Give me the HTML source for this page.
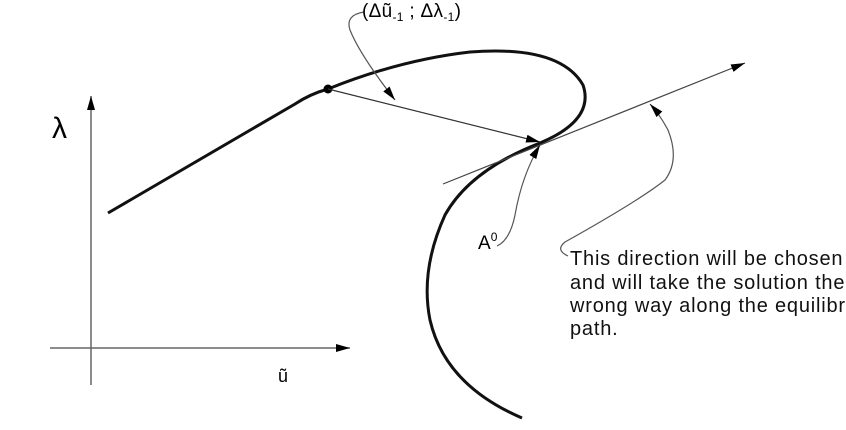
<!DOCTYPE html>
<html><head><style>
body{margin:0;background:#fff;}
svg{display:block;font-family:"Liberation Sans",sans-serif;}
</style></head><body>
<svg width="846" height="430" viewBox="0 0 846 430">
<defs>
<marker id="a" markerWidth="14" markerHeight="8" refX="14" refY="4" orient="auto" markerUnits="userSpaceOnUse">
<path d="M0,0 L14,4 L0,8 Z" fill="#000"/></marker>
</defs>
<line x1="91" y1="385" x2="91" y2="96" stroke="#666" stroke-width="1.5" marker-end="url(#a)"/>
<line x1="50" y1="348" x2="350" y2="348" stroke="#666" stroke-width="1.5" marker-end="url(#a)"/>
<text x="52" y="138" font-size="30">λ</text>
<text x="278" y="382" font-size="18">ũ</text>
<path d="M108,213 L295,104 Q310,94 328,89 Q400,60 470,52 Q560,45 583,85 Q595,120 540,143 Q470,170 445,215 Q420,270 430,320 Q445,385 522,418" fill="none" stroke="#111" stroke-width="3"/>
<circle cx="328" cy="89" r="4.5" fill="#000"/>
<line x1="443" y1="184" x2="745" y2="63" stroke="#444" stroke-width="1.2" marker-end="url(#a)"/>
<line x1="328" y1="89" x2="540" y2="142" stroke="#333" stroke-width="1.2" marker-end="url(#a)"/>
<path d="M364,12 Q345,15 350,30 Q360,55 395,100" fill="none" stroke="#555" stroke-width="1.2" marker-end="url(#a)"/>
<path d="M497,246 Q510,240 515,215 Q522,175 540,145" fill="none" stroke="#555" stroke-width="1.2" marker-end="url(#a)"/>
<path d="M568,256 Q555,250 565,242 Q640,200 665,180 Q680,160 668,130 Q660,115 650,104" fill="none" stroke="#555" stroke-width="1.2" marker-end="url(#a)"/>
<text x="362" y="17" font-size="19" letter-spacing="0.3">(Δũ<tspan font-size="12" dy="4">-1</tspan><tspan dy="-4"> ; Δλ</tspan><tspan font-size="12" dy="4">-1</tspan><tspan dy="-4">)</tspan></text>
<text x="478" y="249" font-size="19">A<tspan font-size="12" dy="-8">0</tspan></text>
<g font-size="20" fill="#111" letter-spacing="0.8">
<text x="570" y="265">This direction will be chosen</text>
<text x="570" y="289">and will take the solution the</text>
<text x="570" y="312">wrong way along the equilibrium</text>
<text x="570" y="335">path.</text>
</g>
</svg>
</body></html>
